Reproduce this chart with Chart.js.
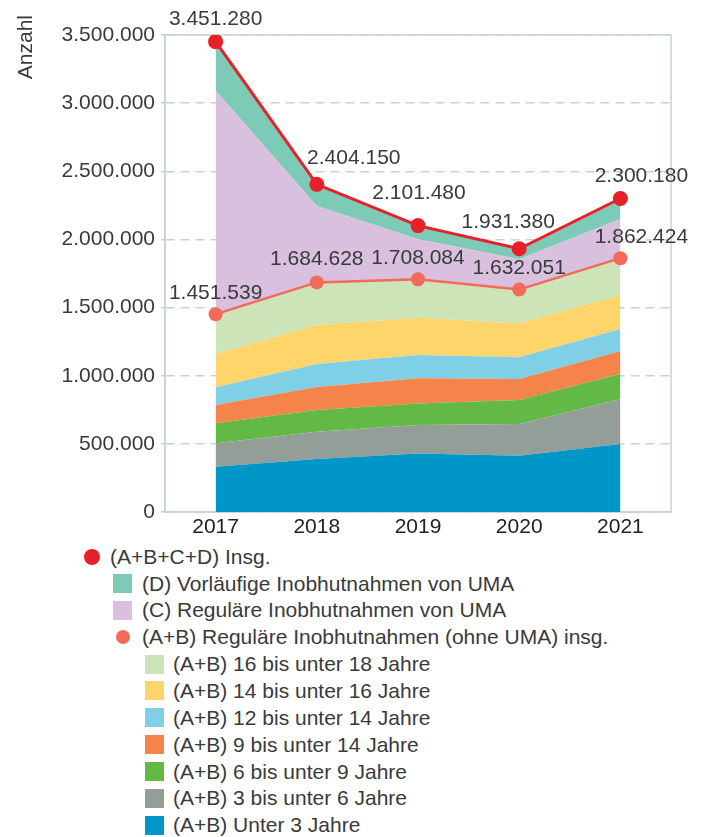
<!DOCTYPE html>
<html><head><meta charset="utf-8">
<script src="https://cdn.jsdelivr.net/npm/chart.js@4"></script>
<style>
body{margin:0;background:#fff;font-family:"Liberation Sans",Arial,sans-serif;color:#3a3a3a;width:707px;height:837px;overflow:hidden;position:relative}
#wrap{position:absolute;left:0;top:0;width:707px;height:540px}
.li{position:absolute;font-size:21px;line-height:24px;height:24px;white-space:nowrap;color:#3a3a3a}
.sw{position:absolute}
</style></head><body>
<div id="wrap"><canvas id="c" width="707" height="540"></canvas></div>
<div id="legend"></div>
<script>
const years = ['2017', '2018', '2019', '2020', '2021'];
// stacked segments (A+B age groups), then C and D
const unter3   = [332000, 389000, 430000, 413000, 499000];
const j3bis6   = [172000, 200000, 208000, 233000, 328000];
const j6bis9   = [147000, 159000, 159000, 176000, 186000];
const j9bis14  = [134000, 169000, 184000, 154000, 168000];
const j12bis14 = [130000, 169000, 171000, 159000, 162000];
const j14bis16 = [244000, 286000, 274000, 249000, 249000];
const j16bis18 = [292539, 312628, 282084, 248051, 269424];
const umaRegular  = [1640000, 560000, 293000, 222000, 288000];
const umaVorlaeufig = [359741, 159522, 100396, 77329, 149756];
const totalAB  = [1451539, 1684628, 1708084, 1632051, 1862424];
const totalAll = [3451280, 2404150, 2101480, 1931380, 2300180];
const yTickStep = 500000;
const yMax = 3500000;

const FONT = '"Liberation Sans", Arial, sans-serif';
const TEXT = '#3a3a3a';
const fmt = v => Math.round(v).toLocaleString('de-DE');

const areaDefs = [
  {label: '(A+B) Unter 3 Jahre', data: unter3, color: '#0096c8'},
  {label: '(A+B) 3 bis unter 6 Jahre', data: j3bis6, color: '#949e98'},
  {label: '(A+B) 6 bis unter 9 Jahre', data: j6bis9, color: '#62b946'},
  {label: '(A+B) 9 bis unter 14 Jahre', data: j9bis14, color: '#f4844a'},
  {label: '(A+B) 12 bis unter 14 Jahre', data: j12bis14, color: '#7fd0e6'},
  {label: '(A+B) 14 bis unter 16 Jahre', data: j14bis16, color: '#fdd56a'},
  {label: '(A+B) 16 bis unter 18 Jahre', data: j16bis18, color: '#cce4b8'},
  {label: '(C) Reguläre Inobhutnahmen von UMA', data: umaRegular, color: '#d8c0de'},
  {label: '(D) Vorläufige Inobhutnahmen von UMA', data: umaVorlaeufig, color: '#7dcbb6'}
];

const datasets = areaDefs.map((d, i) => ({
  label: d.label, data: d.data, backgroundColor: d.color, borderColor: d.color,
  borderWidth: 0, pointRadius: 0, pointHoverRadius: 0, fill: i === 0 ? 'origin' : '-1',
  stack: 'areas', tension: 0, order: 5
}));
datasets.push({
  label: '(A+B+C+D) Insg.', data: totalAll, borderColor: '#e8202a', backgroundColor: '#e8202a',
  borderWidth: 3, pointRadius: 7.5, pointBackgroundColor: '#e8202a', pointBorderWidth: 0,
  fill: false, stack: 'tot', order: -2, tension: 0
});
datasets.push({
  label: '(A+B) Reguläre Inobhutnahmen (ohne UMA) insg.', data: totalAB, borderColor: '#f26a5a', backgroundColor: '#f26a5a',
  borderWidth: 2.5, pointRadius: 7, pointBackgroundColor: '#f26a5a', pointBorderWidth: 0,
  fill: false, stack: 'ab', order: -1, tension: 0
});

const AXIS = '#c6d3cf';

const extras = {
  id: 'extras',
  beforeDatasetsDraw(chart) {
    const {ctx, chartArea: a} = chart;
    ctx.save();
    ctx.strokeStyle = AXIS; ctx.lineWidth = 1.5;
    ctx.strokeRect(a.left, a.top, a.right - a.left, a.bottom - a.top);
    ctx.restore();
  },
  afterDatasetsDraw(chart) {
    const {ctx} = chart;
    ctx.save();
    ctx.font = '21px ' + FONT;
    ctx.fillStyle = TEXT;
    ctx.textAlign = 'center';
    ctx.textBaseline = 'middle';
    const mAll = chart.getDatasetMeta(9), mAB = chart.getDatasetMeta(10);
    const dxAll = [0, 37, 1, -11, 21], dyAll = [-22, -26, -32, -27, -22];
    const dxAB = [0, 0, 0, 0, 21], dyAB = [-21, -23, -21, -21, -21];
    totalAll.forEach((v, i) => {
      const p = mAll.data[i];
      ctx.fillText(fmt(v), p.x + dxAll[i], p.y + dyAll[i]);
    });
    totalAB.forEach((v, i) => {
      const p = mAB.data[i];
      ctx.fillText(fmt(v), p.x + dxAB[i], p.y + dyAB[i]);
    });
    // axis title
    ctx.translate(26, 15);
    ctx.rotate(-Math.PI / 2);
    ctx.textAlign = 'right';
    ctx.fillText('Anzahl', 0, 0);
    ctx.restore();
  }
};

new Chart(document.getElementById('c'), {
  type: 'line',
  data: {labels: years, datasets},
  options: {
    responsive: false, animation: false, devicePixelRatio: 1,
    layout: {padding: {top: 35, right: 36, left: 0, bottom: 0}},
    plugins: {legend: {display: false}, tooltip: {enabled: false}},
    scales: {
      x: {
        offset: true,
        grid: {display: false, drawTicks: false},
        border: {color: AXIS, width: 1.5},
        ticks: {color: '#222', font: {family: FONT, size: 21}, padding: 3},
        afterFit(s) { s.height = 28; }
      },
      y: {
        stacked: true, min: 0, max: yMax,
        ticks: {stepSize: yTickStep, color: TEXT, font: {family: FONT, size: 21}, padding: 6,
          callback: v => fmt(v)},
        grid: {color: AXIS, lineWidth: 1.5, tickLength: 4, drawTicks: true},
        border: {color: AXIS, width: 1.5, dash: [9, 6]},
        afterFit(s) { s.width = 165; }
      }
    }
  },
  plugins: [extras]
});

// HTML legend
const legendRows = [
  {text: '(A+B+C+D) Insg.', kind: 'circle', color: '#e8202a', cx: 92, size: 16, tx: 110},
  {text: '(D) Vorläufige Inobhutnahmen von UMA', kind: 'square', color: '#7dcbb6', sx: 113, size: 19, tx: 142},
  {text: '(C) Reguläre Inobhutnahmen von UMA', kind: 'square', color: '#d8c0de', sx: 113, size: 19, tx: 142},
  {text: '(A+B) Reguläre Inobhutnahmen (ohne UMA) insg.', kind: 'circle', color: '#f26a5a', cx: 123, size: 14, tx: 142},
  {text: '(A+B) 16 bis unter 18 Jahre', kind: 'square', color: '#cce4b8', sx: 145, size: 19, tx: 173},
  {text: '(A+B) 14 bis unter 16 Jahre', kind: 'square', color: '#fdd56a', sx: 145, size: 19, tx: 173},
  {text: '(A+B) 12 bis unter 14 Jahre', kind: 'square', color: '#7fd0e6', sx: 145, size: 19, tx: 173},
  {text: '(A+B) 9 bis unter 14 Jahre', kind: 'square', color: '#f4844a', sx: 145, size: 19, tx: 173},
  {text: '(A+B) 6 bis unter 9 Jahre', kind: 'square', color: '#62b946', sx: 145, size: 19, tx: 173},
  {text: '(A+B) 3 bis unter 6 Jahre', kind: 'square', color: '#949e98', sx: 145, size: 19, tx: 173},
  {text: '(A+B) Unter 3 Jahre', kind: 'square', color: '#0096c8', sx: 145, size: 19, tx: 173}
];
const lg = document.getElementById('legend');
legendRows.forEach((r, i) => {
  const cy = 556.7 + i * 26.85;
  const sw = document.createElement('div');
  sw.className = 'sw';
  sw.style.background = r.color;
  sw.style.width = r.size + 'px'; sw.style.height = r.size + 'px';
  if (r.kind === 'circle') {
    sw.style.borderRadius = '50%';
    sw.style.left = (r.cx - r.size / 2) + 'px';
  } else {
    sw.style.left = r.sx + 'px';
  }
  sw.style.top = (cy - r.size / 2) + 'px';
  lg.appendChild(sw);
  const t = document.createElement('div');
  t.className = 'li';
  t.textContent = r.text;
  t.style.left = r.tx + 'px';
  t.style.top = (cy - 12) + 'px';
  lg.appendChild(t);
});
</script>
</body></html>
